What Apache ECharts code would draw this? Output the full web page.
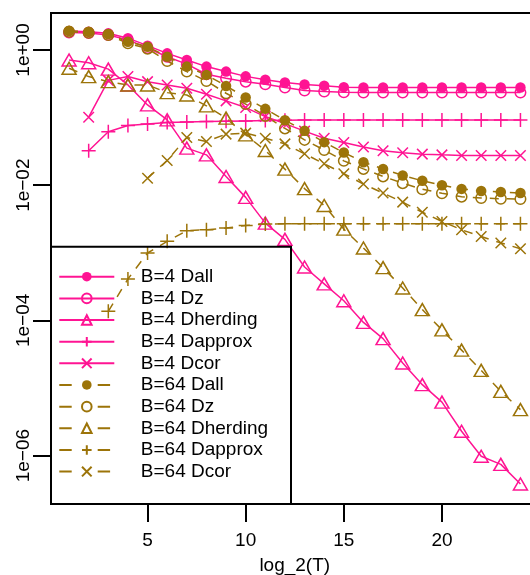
<!DOCTYPE html>
<html><head><meta charset="utf-8">
<script src="https://cdn.jsdelivr.net/npm/echarts@6/dist/echarts.min.js"></script>
<style>html,body{margin:0;padding:0;background:#fff}#c{width:530px;height:575px}</style>
</head><body><div id="c"></div>
<script>
// x = log_2(T)
const xValues = [1,2,3,4,5,6,7,8,9,10,11,12,13,14,15,16,17,18,19,20,21,22,23,24];

const b4Dall = [1.905,1.862,1.762,1.496,1.159,0.891,0.711,0.568,0.479,0.407,0.363,0.331,0.309,0.295,0.282,0.278,0.278,0.278,0.278,0.278,0.278,0.278,0.278,0.278];
const b4Dz = [1.82,1.78,1.66,1.41,1.07,0.794,0.617,0.437,0.382,0.340,0.311,0.278,0.251,0.243,0.237,0.234,0.234,0.234,0.234,0.234,0.234,0.234,0.234,0.234];
const b4Dherding = [0.711,0.646,0.521,0.304,0.154,0.0925,0.0353,0.0281,0.01346,0.0066,0.00275,0.00158,6.17e-4,3.47e-4,1.95e-4,9.33e-5,5.37e-5,2.34e-5,1.12e-5,6.17e-6,2.29e-6,9.77e-7,7.41e-7,3.80e-7];
const b4Dapprox = [null,0.0324,0.0617,0.0762,0.0807,0.0845,0.0863,0.0873,0.0881,0.0891,0.0902,0.0912,0.0923,0.0923,0.0923,0.0923,0.0923,0.0923,0.0923,0.0923,0.0923,0.0923,0.0923,0.0923];
const b4Dcor = [null,0.1014,0.355,0.404,0.340,0.304,0.272,0.221,0.1766,0.1406,0.1035,0.0813,0.0631,0.0495,0.0427,0.0367,0.0324,0.0302,0.0288,0.0281,0.0275,0.0275,0.0275,0.0275];

const b64Dall = [1.928,1.862,1.722,1.327,1.119,0.796,0.568,0.428,0.294,0.1977,0.1346,0.0912,0.0637,0.0433,0.0304,0.0219,0.0174,0.01393,0.01161,0.0100,0.00881,0.00822,0.00794,0.00767];
const b64Dz = [1.862,1.799,1.660,1.259,1.047,0.687,0.479,0.348,0.229,0.1585,0.1059,0.0692,0.0468,0.0331,0.0229,0.0174,0.01349,0.01072,0.00871,0.00759,0.00676,0.00646,0.00631,0.00624];
const b64Dherding = [0.537,0.404,0.340,0.304,0.304,0.234,0.216,0.149,0.098,0.0555,0.0326,0.0173,0.00891,0.00501,0.00224,0.001175,6.03e-4,3.02e-4,1.445e-4,7.24e-5,3.63e-5,1.82e-5,8.91e-6,4.79e-6];
const b64Dapprox = [null,null,1.36e-4,4.10e-4,9.93e-4,1.476e-3,2.12e-3,2.19e-3,2.32e-3,2.54e-3,2.66e-3,2.69e-3,2.69e-3,2.69e-3,2.69e-3,2.69e-3,2.69e-3,2.69e-3,2.69e-3,2.69e-3,2.69e-3,2.69e-3,2.69e-3,2.69e-3];
const b64Dcor = [null,null,null,null,0.0127,0.0232,0.0507,0.0443,0.0569,0.0589,0.0495,0.0408,0.0291,0.0207,0.01479,0.01038,0.00764,0.00562,0.00398,0.00291,0.00219,0.00174,0.0014,0.00115];

const xTickValues = [5,10,15,20];
const yTickValues = [1,1e-2,1e-4,1e-6];
const seriesNames = ['B=4 Dall','B=4 Dz','B=4 Dherding','B=4 Dapprox','B=4 Dcor','B=64 Dall','B=64 Dz','B=64 Dherding','B=64 Dapprox','B=64 Dcor'];
const seriesValues = [b4Dall,b4Dz,b4Dherding,b4Dapprox,b4Dcor,b64Dall,b64Dz,b64Dherding,b64Dapprox,b64Dcor];

const PINK = '#FF1493', BROWN = '#9C7409';
const FONT = '"Liberation Sans", Arial, Helvetica, sans-serif';
const FS = 19;
const MINUS = '\u2212';
const SYM = {
  fill:   {symbol:'circle', size:10.5, filled:true},
  open:   {symbol:'circle', size:10.5, filled:false},
  tri:    {symbol:'triangle', size:[14,12], filled:false},
  plus:   {symbol:'path://M0,5L10,5M5,0L5,10', size:14, filled:false},
  cross:  {symbol:'path://M0,0L10,10M10,0L0,10', size:10.5, filled:false}
};
const symOrder = ['fill','open','tri','plus','cross'];

const series = seriesNames.map((name, i) => {
  const col = i < 5 ? PINK : BROWN;
  const dashed = i >= 5;
  const s = SYM[symOrder[i % 5]];
  const vals = seriesValues[i];
  const data = [];
  xValues.forEach((x, k) => { if (vals[k] != null) data.push([x, vals[k]]); });
  return {
    name, type: 'line', data,
    symbol: s.symbol, symbolSize: s.size, showSymbol: true,
    lineStyle: {color: col, width: 1.5, type: dashed ? [9, 8] : 'solid'},
    itemStyle: {color: s.filled ? col : 'rgba(0,0,0,0)', borderColor: col, borderWidth: s.filled ? 0 : 1.5},
    emphasis: {disabled: true},
    animation: false, silent: true
  };
});

function yFmt(v) {
  const e = Math.round(Math.log10(v));
  return '1e' + (e < 0 ? MINUS : '+') + String(Math.abs(e)).padStart(2, '0');
}

const chart = echarts.init(document.getElementById('c'), null, {renderer: 'canvas'});
chart.setOption({
  animation: false,
  backgroundColor: '#fff',
  grid: {left: 51, top: 13, width: 487.5, height: 491, show: true, borderColor: '#000', borderWidth: 2,
         containLabel: false, outerBoundsMode: 'none'},
  xAxis: {
    type: 'value', min: 0.08, max: 24.92,
    name: 'log_2(T)', nameLocation: 'middle', nameGap: 52.5,
    nameTextStyle: {fontFamily: FONT, fontSize: FS, color: '#000'},
    axisLine: {show: false}, splitLine: {show: false},
    axisTick: {show: true, length: 18, customValues: xTickValues, lineStyle: {color: '#000', width: 2}},
    axisLabel: {customValues: xTickValues, margin: 27, fontFamily: FONT, fontSize: FS, color: '#000'}
  },
  yAxis: {
    type: 'log', logBase: 10, min: 1.923e-7, max: 3.524,
    axisLine: {show: false}, splitLine: {show: false},
    axisTick: {show: true, length: 18, customValues: yTickValues, lineStyle: {color: '#000', width: 2}},
    axisLabel: {customValues: yTickValues, rotate: 90, margin: 18, fontFamily: FONT, fontSize: FS, color: '#000', formatter: yFmt}
  },
  legend: {
    orient: 'vertical', left: 58.3, top: 265.9, padding: 0,
    itemWidth: 55, itemHeight: 12, itemGap: 0, selectedMode: false,
    textStyle: {fontFamily: FONT, fontSize: FS, color: '#000', lineHeight: 21.65, padding: [0,0,0,21.5]},
    data: seriesNames.map((n, i) => i >= 5 ? {name: n, lineStyle: {type: [12.4, 26]}} : {name: n})
  },
  graphic: [{type: 'rect', shape: {x: 51, y: 246.7, width: 240, height: 257.3}, style: {fill: 'none', stroke: '#000', lineWidth: 2}, silent: true, z: 100}],
  series
});
</script></body></html>
